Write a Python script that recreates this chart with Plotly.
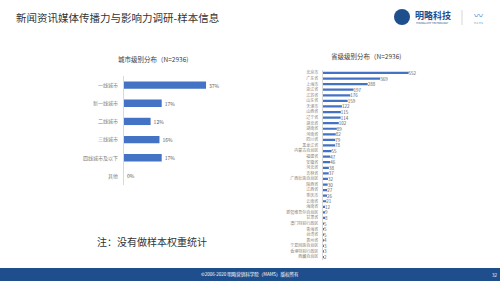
import plotly.graph_objects as go

# ---- data ----
city_levels = ["一线城市", "新一线城市", "二线城市", "三线城市", "四线城市及以下", "其他"]
city_pct = [37, 17, 12, 16, 17, 0]

provinces = ["北京市", "广东省", "上海市", "浙江省", "江苏省", "山东省", "天津市", "山西省",
             "辽宁省", "湖北省", "湖南省", "河南省", "四川省", "黑龙江省", "内蒙古自治区",
             "福建省", "安徽省", "河北省", "吉林省", "广西壮族自治区", "陕西省", "江西省",
             "重庆市", "云南省", "海南省", "新疆维吾尔自治区", "甘肃省", "澳门特别行政区",
             "青海省", "台湾省", "贵州省", "宁夏回族自治区", "香港特别行政区", "西藏自治区"]
prov_counts = [552, 369, 288, 197, 176, 159, 122, 115, 114, 102, 89, 82, 79, 78, 55,
               47, 46, 38, 37, 32, 30, 27, 26, 21, 12, 9, 8, 5, 5, 5, 4, 3, 3, 2]

title_text = "新闻资讯媒体传播力与影响力调研-样本信息"
left_title = "城市级别分布（N=2936)"
right_title = "省级级别分布（N=2936)"
note_text = "注：没有做样本权重统计"
footer_text = "©2006-2020 明略营销科学院（MAMS）版权所有"
page_no = "32"

W, H = 500, 281
FONT = "Noto Sans CJK SC"
BAR = "#4472C4"

def px_x(x):
    return x / W

def px_y(y):
    return 1 - y / H

fig = go.Figure()

fig.add_trace(go.Bar(
    y=city_levels, x=city_pct, orientation="h",
    marker=dict(color=BAR, line=dict(width=0)),
    text=[f"{v}%" for v in city_pct], textposition="outside", constraintext="none",
    textfont=dict(size=5, color="#595959", family=FONT),
    cliponaxis=False, xaxis="x", yaxis="y", showlegend=False,
))
fig.add_trace(go.Bar(
    y=provinces, x=prov_counts, orientation="h",
    marker=dict(color=BAR, line=dict(width=0)),
    text=[str(v) for v in prov_counts], textposition="outside", constraintext="none",
    textfont=dict(size=4.5, color="#595959", family=FONT),
    cliponaxis=False, xaxis="x2", yaxis="y2", showlegend=False,
))

fig.update_layout(
    width=W, height=H, margin=dict(l=0, r=0, t=0, b=0),
    paper_bgcolor="white", plot_bgcolor="white",
    font=dict(family=FONT, color="#595959"),
    bargap=0.6,
    uniformtext=dict(mode=False),
    xaxis=dict(domain=[px_x(124), px_x(226)], range=[0, 46], visible=False),
    yaxis=dict(domain=[px_y(185), px_y(76)], anchor="x", autorange="reversed",
               showline=True, linecolor="#D9D9D9", linewidth=1, ticks="",
               tickfont=dict(size=5, color="#7F7F7F", family=FONT), ticklabelstandoff=4),
    xaxis2=dict(domain=[px_x(323), px_x(430)], range=[0, 690], visible=False, anchor="y2"),
    yaxis2=dict(domain=[px_y(259.8), px_y(70.2)], anchor="x2", autorange="reversed",
                showline=True, linecolor="#D9D9D9", linewidth=1, ticks="",
                tickfont=dict(size=4, color="#7F7F7F", family=FONT), ticklabelstandoff=3),
)

annotations = [
    dict(text=title_text, x=px_x(14), y=px_y(17), xanchor="left", yanchor="middle",
         font=dict(size=10.5, color="#333333", family=FONT)),
    dict(text=left_title, x=px_x(153), y=px_y(59), xanchor="center", yanchor="middle",
         font=dict(size=6.5, color="#404040", family=FONT)),
    dict(text=right_title, x=px_x(366), y=px_y(56), xanchor="center", yanchor="middle",
         font=dict(size=6.5, color="#404040", family=FONT)),
    dict(text=note_text, x=px_x(95), y=px_y(241), xanchor="left", yanchor="middle",
         font=dict(size=10, color="#333333", family=FONT)),
    dict(text=footer_text, x=0.5, y=px_y(274.5), xanchor="center", yanchor="middle",
         font=dict(size=4.5, color="white", family=FONT)),
    dict(text=page_no, x=px_x(494), y=px_y(274.5), xanchor="center", yanchor="middle",
         font=dict(size=4.5, color="white", family=FONT)),
    dict(text="<b>明略科技</b>", x=px_x(413), y=px_y(15), xanchor="left", yanchor="middle",
         font=dict(size=9, color="#1F4E8C", family=FONT)),
    dict(text="MININGLAMP TECHNOLOGY", x=px_x(414), y=px_y(23), xanchor="left", yanchor="middle",
         font=dict(size=2.5, color="#1F4E8C", family=FONT)),
    dict(text="M A M S", x=px_x(478), y=px_y(23), xanchor="center", yanchor="middle",
         font=dict(size=2.5, color="#4A90C8", family=FONT)),
    dict(text="〰", x=px_x(478), y=px_y(15), xanchor="center", yanchor="middle",
         font=dict(size=9, color="#4A90C8", family=FONT)),
]
for a in annotations:
    a.update(xref="paper", yref="paper", showarrow=False)
fig.update_layout(annotations=annotations)

shapes = [
    dict(type="rect", x0=0, x1=1, y0=0, y1=px_y(268), fillcolor="#1F4E8C", line=dict(width=0)),
    dict(type="circle", x0=px_x(394), x1=px_x(410), y0=px_y(25), y1=px_y(9),
         fillcolor="#1F4E8C", line=dict(width=0)),
    dict(type="line", x0=px_x(462), x1=px_x(462), y0=px_y(25), y1=px_y(10),
         line=dict(color="#CCCCCC", width=0.8)),
]
for s in shapes:
    s.update(xref="paper", yref="paper", layer="above")
fig.update_layout(shapes=shapes)

fig.write_html("out.html")
